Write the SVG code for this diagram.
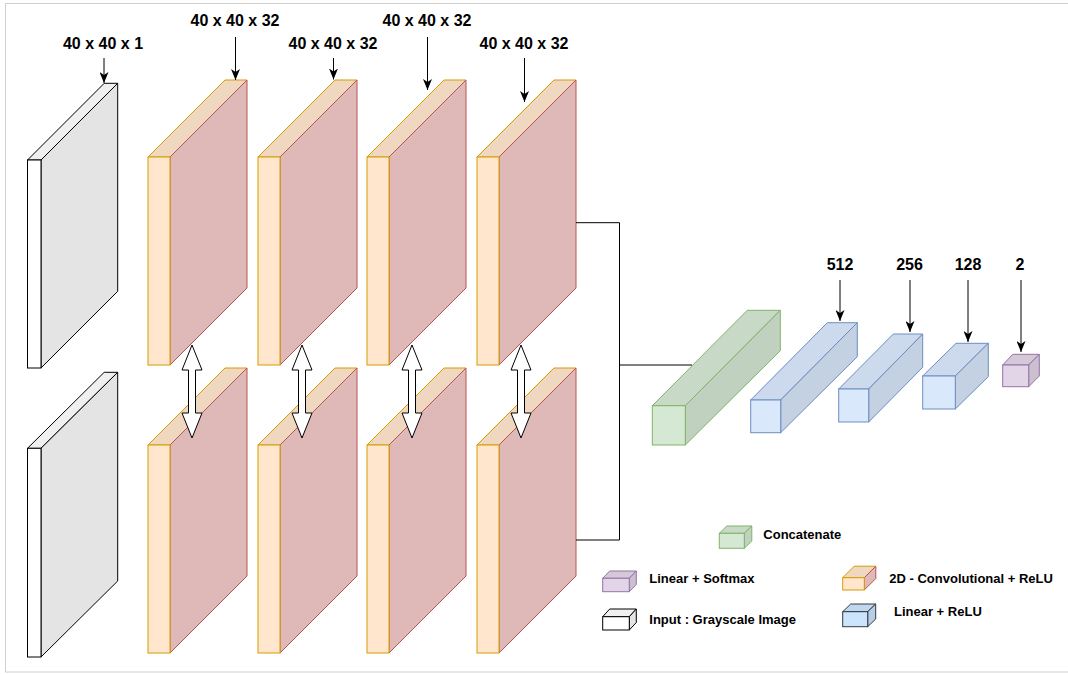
<svg xmlns="http://www.w3.org/2000/svg" width="1068" height="675" viewBox="0 0 1068 675">
<defs>
<marker id="arr" viewBox="0 0 11 9" refX="11" refY="4.5" markerWidth="11" markerHeight="9" markerUnits="userSpaceOnUse" orient="auto"><path d="M0,0 L11,4.5 L0,9 L3,4.5 Z" fill="#000"/></marker>
<style>
text{font-family:"Liberation Sans",Arial,sans-serif;font-weight:bold;fill:#000}
.lbl{font-size:16px;text-anchor:middle}
.leg{font-size:13px}
.ptr{stroke:#000;stroke-width:1;fill:none;marker-end:url(#arr)}
.wire{stroke:#000;stroke-width:1;fill:none}
.in-f{fill:#fff;stroke:#000}.in-t{fill:#f0f0f0;stroke:#000}.in-s{fill:#e4e4e4;stroke:#000}
.cv-f{fill:#ffe6cc;stroke:#d79b00}.cv-t{fill:#f0d8c0;stroke:#d79b00}.cv-s{fill:#dfb9b8;stroke:#b85450}
.gr-f{fill:#d5e8d4;stroke:#82b366}.gr-t{fill:#c8dac7;stroke:#82b366}.gr-s{fill:#c0d1bf;stroke:#82b366}
.bl-f{fill:#dae8fc;stroke:#6c8ebf}.bl-t{fill:#cddaed;stroke:#6c8ebf}.bl-s{fill:#c4d1e3;stroke:#6c8ebf}
.pu-f{fill:#e1d5e7;stroke:#9673a6}.pu-t{fill:#d4c8d9;stroke:#9673a6}.pu-s{fill:#cbc0d0;stroke:#9673a6}
.lb-f{fill:#cce5ff;stroke:#36393d}.lb-t{fill:#c0d7f0;stroke:#36393d}.lb-s{fill:#b8cee6;stroke:#36393d}
.dbl{fill:#fff;stroke:#000;stroke-width:1}
</style>
</defs>
<rect x="5.5" y="3.5" width="1070" height="668.5" fill="#fff" stroke="#d0d0d0"/>

<!-- Input slabs -->
<g id="input-top">
<polygon class="in-t" points="27.5,160 104.2,83.3 117.7,83.3 41,160"/>
<polygon class="in-s" points="41,160 117.7,83.3 117.7,291.3 41,368"/>
<rect class="in-f" x="27.5" y="160" width="13.5" height="208"/>
</g>
<g id="input-bottom">
<polygon class="in-t" points="27.5,448.3 104.2,372.3 117.7,372.3 41,448.3"/>
<polygon class="in-s" points="41,448.3 117.7,372.3 117.7,581 41,657"/>
<rect class="in-f" x="27.5" y="448.3" width="13.5" height="208.7"/>
</g>

<!-- Conv slabs top row -->
<g id="conv-top-1">
<polygon class="cv-t" points="148,157 225,80 247,80 170,157"/>
<polygon class="cv-s" points="170,157 247,80 247,288 170,365"/>
<rect class="cv-f" x="148" y="157" width="22" height="208"/>
</g>
<g id="conv-top-2">
<polygon class="cv-t" points="258,157 335,80 357,80 280,157"/>
<polygon class="cv-s" points="280,157 357,80 357,288 280,365"/>
<rect class="cv-f" x="258" y="157" width="22" height="208"/>
</g>
<g id="conv-top-3">
<polygon class="cv-t" points="367,157 444,80 466,80 389,157"/>
<polygon class="cv-s" points="389,157 466,80 466,288 389,365"/>
<rect class="cv-f" x="367" y="157" width="22" height="208"/>
</g>
<g id="conv-top-4">
<polygon class="cv-t" points="477,157 554,80 576,80 499,157"/>
<polygon class="cv-s" points="499,157 576,80 576,288 499,365"/>
<rect class="cv-f" x="477" y="157" width="22" height="208"/>
</g>

<!-- Conv slabs bottom row -->
<g id="conv-bottom-1">
<polygon class="cv-t" points="148,445 225,368 247,368 170,445"/>
<polygon class="cv-s" points="170,445 247,368 247,576 170,653"/>
<rect class="cv-f" x="148" y="445" width="22" height="208"/>
</g>
<g id="conv-bottom-2">
<polygon class="cv-t" points="258,445 335,368 357,368 280,445"/>
<polygon class="cv-s" points="280,445 357,368 357,576 280,653"/>
<rect class="cv-f" x="258" y="445" width="22" height="208"/>
</g>
<g id="conv-bottom-3">
<polygon class="cv-t" points="367,445 444,368 466,368 389,445"/>
<polygon class="cv-s" points="389,445 466,368 466,576 389,653"/>
<rect class="cv-f" x="367" y="445" width="22" height="208"/>
</g>
<g id="conv-bottom-4">
<polygon class="cv-t" points="477,445 554,368 576,368 499,445"/>
<polygon class="cv-s" points="499,445 576,368 576,576 499,653"/>
<rect class="cv-f" x="477" y="445" width="22" height="208"/>
</g>

<!-- Concatenate -->
<g id="concat">
<polygon class="gr-t" points="652.3,405.7 747.3,310.3 780.3,310.3 685.3,405.7"/>
<polygon class="gr-s" points="685.3,405.7 780.3,310.3 780.3,350.7 685.3,445"/>
<rect class="gr-f" x="652.3" y="405.7" width="33" height="39.3"/>
</g>

<!-- Linear layers -->
<g id="linear-512">
<polygon class="bl-t" points="750.7,400 827.3,322.7 857.3,322.7 780.7,400"/>
<polygon class="bl-s" points="780.7,400 857.3,322.7 857.3,356.7 780.7,432.7"/>
<rect class="bl-f" x="750.7" y="400" width="30" height="32.7"/>
</g>
<g id="linear-256">
<polygon class="bl-t" points="838.7,389 893.3,334 922.7,334 868.7,389"/>
<polygon class="bl-s" points="868.7,389 922.7,334 922.7,367.3 868.7,422"/>
<rect class="bl-f" x="838.7" y="389" width="30" height="33"/>
</g>
<g id="linear-128">
<polygon class="bl-t" points="922.7,376 956,343.3 988.3,343.3 955.3,376"/>
<polygon class="bl-s" points="955.3,376 988.3,343.3 988.3,376.7 955.3,409"/>
<rect class="bl-f" x="922.7" y="376" width="32.6" height="33"/>
</g>
<g id="softmax-2">
<polygon class="pu-t" points="1002.7,365 1012.7,354.3 1039.3,354.3 1028.7,365"/>
<polygon class="pu-s" points="1028.7,365 1039.3,354.3 1039.3,376 1028.7,386.7"/>
<rect class="pu-f" x="1002.7" y="365" width="26" height="21.7"/>
</g>

<!-- Connectors -->
<g id="connectors">
<polyline class="wire" points="576,222.7 619.5,222.7 619.5,540 576,540"/>
<line class="wire" x1="619.5" y1="365" x2="692" y2="365"/>
<line class="ptr" x1="104" y1="58" x2="104" y2="83"/>
<line class="ptr" x1="235.5" y1="37" x2="235.5" y2="80"/>
<line class="ptr" x1="333.5" y1="58" x2="333.5" y2="79.5"/>
<line class="ptr" x1="427.5" y1="37" x2="427.5" y2="90"/>
<line class="ptr" x1="524.5" y1="58" x2="524.5" y2="102"/>
<line class="ptr" x1="840" y1="280" x2="840" y2="321"/>
<line class="ptr" x1="910" y1="280" x2="910" y2="332"/>
<line class="ptr" x1="968" y1="280" x2="968" y2="342"/>
<line class="ptr" x1="1021" y1="280" x2="1021" y2="352"/>
<polygon class="dbl" points="192,345 202,370 195.5,370 195.5,413 202,413 192,438 182,413 188.5,413 188.5,370 182,370"/>
<polygon class="dbl" points="302,345 312,370 305.5,370 305.5,413 312,413 302,438 292,413 298.5,413 298.5,370 292,370"/>
<polygon class="dbl" points="412,345 422,370 415.5,370 415.5,413 422,413 412,438 402,413 408.5,413 408.5,370 402,370"/>
<polygon class="dbl" points="521,345 531,370 524.5,370 524.5,413 531,413 521,438 511,413 517.5,413 517.5,370 511,370"/>
</g>

<!-- Labels -->
<g id="labels">
<text class="lbl" x="103" y="48.5">40 x 40 x 1</text>
<text class="lbl" x="235" y="25.5">40 x 40 x 32</text>
<text class="lbl" x="333" y="48.5">40 x 40 x 32</text>
<text class="lbl" x="427" y="25.5">40 x 40 x 32</text>
<text class="lbl" x="524" y="48.5">40 x 40 x 32</text>
<text class="lbl" x="840" y="270">512</text>
<text class="lbl" x="909.5" y="270">256</text>
<text class="lbl" x="968" y="270">128</text>
<text class="lbl" x="1020" y="270">2</text>
</g>

<!-- Legend -->
<g id="legend-concat">
<polygon class="gr-t" points="719.3,533.3 726.8,526 751.8,526 744.3,533.3"/>
<polygon class="gr-s" points="744.3,533.3 751.8,526 751.8,541 744.3,548.3"/>
<rect class="gr-f" x="719.3" y="533.3" width="25" height="15"/>
<text class="leg" x="763.3" y="538.5">Concatenate</text>
</g>
<g id="legend-softmax">
<polygon class="pu-t" points="602.7,578.3 609.7,571 636.3,571 629.3,578.3"/>
<polygon class="pu-s" points="629.3,578.3 636.3,571 636.3,584.5 629.3,591.7"/>
<rect class="pu-f" x="602.7" y="578.3" width="26.6" height="13.4"/>
<text class="leg" x="649.3" y="583">Linear + Softmax</text>
</g>
<g id="legend-input">
<polygon class="in-t" points="602.7,616.7 609.7,609 636.3,609 629.3,616.7"/>
<polygon class="in-s" points="629.3,616.7 636.3,609 636.3,622.5 629.3,630"/>
<rect class="in-f" x="602.7" y="616.7" width="26.6" height="13.3"/>
<text class="leg" x="649.3" y="623.5">Input : Grayscale Image</text>
</g>
<g id="legend-conv">
<polygon class="cv-t" points="842.7,577.7 854.2,566.2 875.8,566.2 864.3,577.7"/>
<polygon class="cv-s" points="864.3,577.7 875.8,566.2 875.8,578.5 864.3,590"/>
<rect class="cv-f" x="842.7" y="577.7" width="21.6" height="12.3"/>
<text class="leg" x="889.3" y="583">2D - Convolutional + ReLU</text>
</g>
<g id="legend-linear">
<polygon class="lb-t" points="842.7,611.7 850.7,604 875.7,604 867.7,611.7"/>
<polygon class="lb-s" points="867.7,611.7 875.7,604 875.7,619 867.7,626.7"/>
<rect class="lb-f" x="842.7" y="611.7" width="25" height="15"/>
<text class="leg" x="894" y="616">Linear + ReLU</text>
</g>
</svg>
